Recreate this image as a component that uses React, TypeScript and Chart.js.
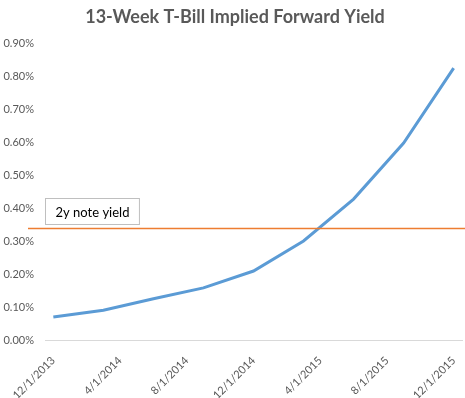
import React, { useEffect, useRef } from "react";
import { Chart, registerables } from "chart.js";

Chart.register(...registerables);

const dates = ["12/1/2013", "3/1/2014", "6/1/2014", "9/1/2014", "12/1/2014", "3/1/2015", "6/1/2015", "9/1/2015", "12/1/2015"];
const forwardYield = [0.07, 0.09, 0.125, 0.158, 0.209, 0.30, 0.427, 0.597, 0.824];
const tickLabels = ["12/1/2013", "4/1/2014", "8/1/2014", "12/1/2014", "4/1/2015", "8/1/2015", "12/1/2015"];
const noteYield = 0.34;
const noteLabel = "2y note yield";
const title = "13-Week T-Bill Implied Forward Yield";

const FONT = "Lato, 'Open Sans', sans-serif";

function monthIndex(d: string): number {
  const [m, , y] = d.split("/").map(Number);
  return (y - 2013) * 12 + (m - 12);
}
function monthLabel(v: number): string {
  const t = 11 + Math.round(v);
  return `${(t % 12) + 1}/1/${2013 + Math.floor(t / 12)}`;
}

const notePlugin = {
  id: "noteLine",
  afterDatasetsDraw(chart: any) {
    const { ctx, chartArea, scales } = chart;
    const y = Math.round(scales.y.getPixelForValue(noteYield)) + 0.5;
    ctx.save();
    ctx.strokeStyle = "#ED7D31";
    ctx.lineWidth = 1.3;
    ctx.beginPath();
    ctx.moveTo(chartArea.left - 17, y);
    ctx.lineTo(chart.width, y);
    ctx.stroke();
    ctx.font = `13px ${FONT}`;
    const tw = ctx.measureText(noteLabel).width;
    const bx = chartArea.left + 0.5;
    const by = y - 30;
    const bw = tw + 20;
    const bh = 26;
    ctx.fillStyle = "#ffffff";
    ctx.fillRect(bx, by, bw, bh);
    ctx.strokeStyle = "#BFBFBF";
    ctx.lineWidth = 1;
    ctx.strokeRect(bx, by, bw, bh);
    ctx.fillStyle = "#000000";
    ctx.textBaseline = "middle";
    ctx.textAlign = "left";
    ctx.fillText(noteLabel, bx + 10, by + bh / 2 + 1);
    ctx.restore();
  },
};

const titlePlugin = {
  id: "customTitle",
  afterDraw(chart: any) {
    const { ctx } = chart;
    ctx.save();
    ctx.font = `bold 18px ${FONT}`;
    ctx.fillStyle = "#595959";
    ctx.textAlign = "center";
    ctx.textBaseline = "middle";
    ctx.fillText(title, 235, 17);
    ctx.restore();
  },
};

export default function App() {
  const ref = useRef<HTMLCanvasElement>(null);
  useEffect(() => {
    document.body.style.margin = "0";
    const chart = new Chart(ref.current!, {
      type: "line",
      data: {
        datasets: [
          {
            data: dates.map((d, i) => ({ x: monthIndex(d), y: forwardYield[i] })),
            borderColor: "#5B9BD5",
            borderWidth: 3,
            pointRadius: 0,
            tension: 0,
            fill: false,
          },
        ],
      },
      options: {
        animation: false,
        responsive: false,
        layout: { padding: { top: 43, right: 3, left: 0, bottom: 0 } },
        plugins: { legend: { display: false }, title: { display: false }, tooltip: { enabled: false } },
        scales: {
          x: {
            type: "linear",
            min: -0.5,
            max: 24.5,
            afterBuildTicks(scale: any) {
              scale.ticks = tickLabels.map((t) => ({ value: monthIndex(t) }));
            },
            afterFit(scale: any) {
              scale.height = 58;
              scale.paddingLeft = 0;
              scale.paddingRight = 0;
            },
            grid: { display: false },
            border: { display: true, color: "#D9D9D9", width: 1 },
            ticks: {
              minRotation: 45,
              maxRotation: 45,
              padding: 6,
              color: "#595959",
              font: { family: FONT, size: 11 },
              callback: (v: any) => monthLabel(Number(v)),
            },
          },
          y: {
            min: 0,
            max: 0.9,
            afterFit(scale: any) {
              scale.width = 45;
            },
            border: { display: false },
            grid: {
              drawTicks: false,
              color: (c: any) => (c.tick && c.tick.value === 0 ? "#D9D9D9" : "rgba(0,0,0,0)"),
            },
            ticks: {
              stepSize: 0.1,
              padding: 11,
              color: "#595959",
              font: { family: FONT, size: 11 },
              callback: (v: any) => Number(v).toFixed(2) + "%",
            },
          },
        },
      },
      plugins: [notePlugin, titlePlugin],
    });
    return () => chart.destroy();
  }, []);
  return (
    <div style={{ position: "absolute", left: 0, top: 0, width: 465, height: 398 }}>
      <canvas ref={ref} width={465} height={398} />
    </div>
  );
}
